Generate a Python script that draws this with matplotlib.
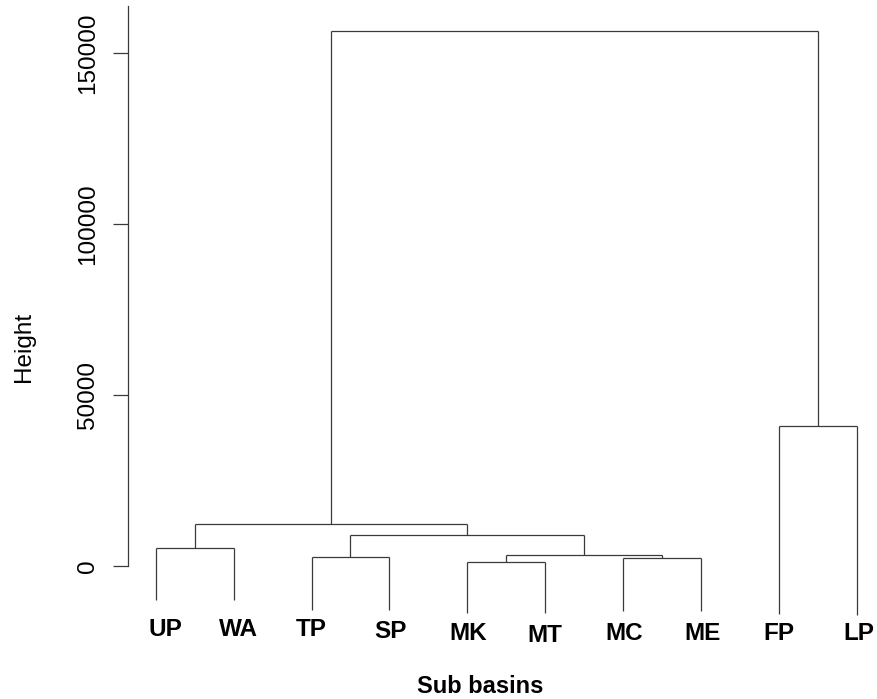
import matplotlib
matplotlib.use("Agg")
import matplotlib.pyplot as plt

# Leaves, left to right in dendrogram order
labels = ["UP", "WA", "TP", "SP", "MK", "MT", "MC", "ME", "FP", "LP"]

# hclust-style merge table: negative = leaf (1-based), positive = earlier merge row
merge_left = [-5, -7, -3, 1, -1, 3, 5, -9, 7]
merge_right = [-6, -8, -4, 2, -2, 4, 6, -10, 8]
merge_height = [1260, 2250, 2720, 3300, 5350, 8980, 12290, 41050, 156500]

# Height at which each leaf branch ends
leaf_height = [-9900, -9900, -12900, -12900, -13800, -13800,
               -13200, -13200, -14000, -14300]

yticks = [0, 50000, 100000, 150000]
ytick_labels = ["0", "50000", "100000", "150000"]

xlabel = "Sub basins"
ylabel = "Height"

FONT = "Liberation Sans"
LINE = "#3a3a3a"
W, H = 877, 699

fig = plt.figure(figsize=(W / 100, H / 100), dpi=100)
ax_left = 127.7
ax = fig.add_axes([ax_left / W, 0, 1 - ax_left / W, 1])

px_per_unit = 3.418e-3          # pixels per height unit
zero_px = 566                   # pixel row of height 0 (from top)
ax.set_ylim((zero_px - H) / px_per_unit, zero_px / px_per_unit)
leaf_gap = 77.9
ax.set_xlim(1 - (155.7 - ax_left) / leaf_gap, 1 + (W - 155.7) / leaf_gap)

# Draw the tree
node_x = {}
for row, (a, b, h) in enumerate(zip(merge_left, merge_right, merge_height), start=1):
    pts = []
    for c in (a, b):
        if c < 0:
            cx, cy = -c, leaf_height[-c - 1]
        else:
            cx, cy = node_x[c], merge_height[c - 1]
        pts.append((cx, cy))
        ax.plot([cx, cx], [cy, h], color=LINE, lw=0.9, solid_capstyle="butt")
    ax.plot([pts[0][0], pts[1][0]], [h, h], color=LINE, lw=0.9,
            solid_capstyle="butt")
    node_x[row] = (pts[0][0] + pts[1][0]) / 2

# Leaf labels (pixel nudges below the zero line)
label_dx = [10, 5, 0, 1, 1, 0, 1, 2, 0, 2]
label_dy = [70, 70.5, 70.5, 72, 73.5, 76, 74, 74, 74, 74]
for i, lab in enumerate(labels):
    ax.annotate(lab, xy=(i + 1, 0), xytext=(label_dx[i], -label_dy[i]),
                textcoords="offset pixels", ha="center", va="baseline",
                fontsize=17.5, fontweight="bold", family=FONT, color="black")

# Axis styling
for s in ("top", "right", "bottom"):
    ax.spines[s].set_visible(False)
ax.spines["left"].set_bounds(0, (zero_px - 6) / px_per_unit)
ax.spines["left"].set_color(LINE)
ax.spines["left"].set_linewidth(0.9)
ax.set_xticks([])
ax.set_yticks(yticks)
ax.set_yticklabels(ytick_labels, rotation=90, va="center",
                   family=FONT, fontsize=17.5)
ax.tick_params(axis="y", length=10.8, width=0.9, color=LINE, pad=10)
ax.patch.set_alpha(0)

fig.text(24 / W, 1 - 347 / H, ylabel, rotation=90, ha="center", va="center",
         family=FONT, fontsize=17.5)
fig.text(480 / W, 1 - 693 / H, xlabel, ha="center", va="baseline",
         family=FONT, fontsize=17, fontweight="bold")

fig.savefig("out.png", dpi=100, facecolor="white")
